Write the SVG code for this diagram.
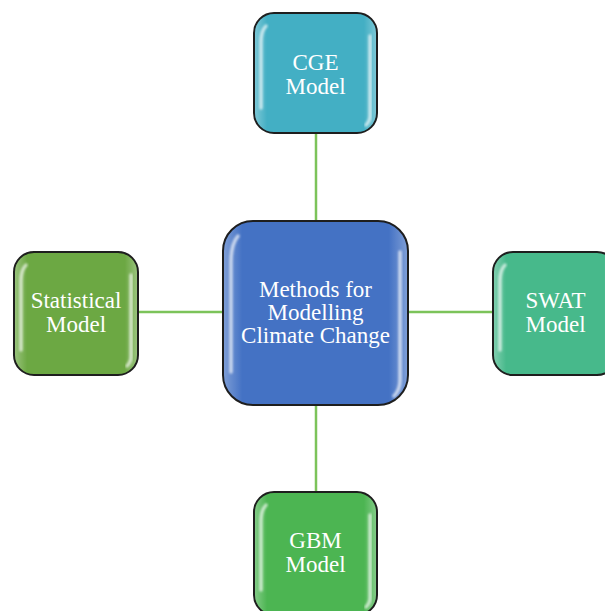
<svg xmlns="http://www.w3.org/2000/svg" width="605" height="611" viewBox="0 0 605 611">
<style>
.box{stroke:#1e1e1e;stroke-width:2}
.lbl{font-family:"Liberation Serif","Times New Roman",serif;font-size:23px;fill:#ffffff;text-anchor:middle}
.hl{fill:none;stroke:#ffffff;stroke-width:3.5;stroke-linecap:round;stroke-opacity:0.65}
.con{stroke:#7cc35a;stroke-width:2.5;fill:none}
</style>
<defs>
<linearGradient id="sheen" x1="0" y1="0" x2="1" y2="0">
<stop offset="0" stop-color="#ffffff" stop-opacity="0.3"/>
<stop offset="0.1" stop-color="#ffffff" stop-opacity="0"/>
<stop offset="0.9" stop-color="#ffffff" stop-opacity="0"/>
<stop offset="1" stop-color="#ffffff" stop-opacity="0.3"/>
</linearGradient>
<filter id="soft" x="-50%" y="-10%" width="200%" height="120%"><feGaussianBlur stdDeviation="1"/></filter>
</defs>
<rect width="605" height="611" fill="#ffffff"/>
<g id="connectors">
<line class="con" x1="316" y1="133" x2="316" y2="221"/>
<line class="con" x1="316" y1="405" x2="316" y2="492"/>
<line class="con" x1="138" y1="312" x2="223" y2="312"/>
<line class="con" x1="408" y1="312" x2="493" y2="312"/>
</g>
<g id="node-center">
<rect class="box" x="223" y="221" width="185" height="184" rx="30" fill="#4472c4"/>
<rect x="224" y="222" width="183" height="182" rx="29" fill="url(#sheen)"/>
<path class="hl" filter="url(#soft)" d="M238 236 Q231 244 231 262 L231 372"/>
<path class="hl" filter="url(#soft)" d="M400 252 L400 380 Q400 390 394 396"/>
<text class="lbl"><tspan x="315.5" y="297">Methods for</tspan><tspan x="315.5" y="320">Modelling</tspan><tspan x="315.5" y="343">Climate Change</tspan></text>
</g>
<g id="node-cge">
<rect class="box" x="254" y="13" width="123" height="120" rx="20" fill="#43afc4"/>
<rect x="255" y="14" width="121" height="118" rx="19" fill="url(#sheen)"/>
<path class="hl" filter="url(#soft)" d="M266 26 Q261 31 261 42 L261 108"/>
<path class="hl" filter="url(#soft)" d="M370 36 L370 116 Q370 121 366 125"/>
<text class="lbl"><tspan x="315.5" y="70">CGE</tspan><tspan x="315.5" y="94">Model</tspan></text>
</g>
<g id="node-statistical">
<rect class="box" x="14" y="252" width="124" height="123" rx="20" fill="#6ca843"/>
<rect x="15" y="253" width="122" height="121" rx="19" fill="url(#sheen)"/>
<path class="hl" filter="url(#soft)" d="M26 265 Q21 270 21 281 L21 350"/>
<path class="hl" filter="url(#soft)" d="M131 275 L131 357 Q131 362 127 366"/>
<text class="lbl"><tspan x="76" y="308">Statistical</tspan><tspan x="76" y="332">Model</tspan></text>
</g>
<g id="node-swat">
<rect class="box" x="493" y="252" width="124" height="123" rx="20" fill="#47b98b"/>
<rect x="494" y="253" width="122" height="121" rx="19" fill="url(#sheen)"/>
<path class="hl" filter="url(#soft)" d="M505 265 Q500 270 500 281 L500 350"/>
<text class="lbl"><tspan x="555.5" y="308">SWAT</tspan><tspan x="555.5" y="332">Model</tspan></text>
</g>
<g id="node-gbm">
<rect class="box" x="254" y="492" width="123" height="123" rx="20" fill="#4cb552"/>
<rect x="255" y="493" width="121" height="121" rx="19" fill="url(#sheen)"/>
<path class="hl" filter="url(#soft)" d="M266 505 Q261 510 261 521 L261 590"/>
<path class="hl" filter="url(#soft)" d="M370 515 L370 598 Q370 603 366 607"/>
<text class="lbl"><tspan x="315.5" y="548">GBM</tspan><tspan x="315.5" y="572">Model</tspan></text>
</g>
</svg>
